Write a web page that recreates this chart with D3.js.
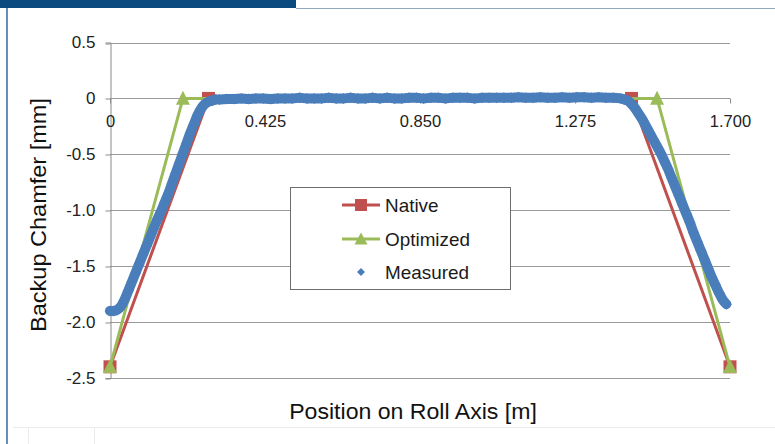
<!DOCTYPE html>
<html>
<head>
<meta charset="utf-8">
<script src="https://cdn.jsdelivr.net/npm/d3@7"></script>
<style>
  html, body { margin: 0; padding: 0; background: #fff; }
  svg { display: block; font-family: "Liberation Sans", Arial, Helvetica, sans-serif; }
</style>
</head>
<body>
<svg id="chart" width="775" height="444"></svg>
<script>
// Axis ticks
const xTicks = [0, 0.425, 0.85, 1.275, 1.7];
const xTickLabels = ["0", "0.425", "0.850", "1.275", "1.700"];
const yTicks = [0.5, 0, -0.5, -1.0, -1.5, -2.0, -2.5];
const yTickLabels = ["0.5", "0", "-0.5", "-1.0", "-1.5", "-2.0", "-2.5"];

// Chamfer profiles (position [m], chamfer [mm])
const nativeX = [0, 0.27, 1.43, 1.7];
const nativeY = [-2.4, 0, 0, -2.4];
const optimizedX = [0, 0.2, 1.5, 1.7];
const optimizedY = [-2.4, 0, 0, -2.4];

// Measured chamfer along the roll
const measuredX = [
  0.000, 0.010, 0.020, 0.030, 0.040, 0.050, 0.060, 0.070, 0.080, 0.090,
  0.100, 0.110, 0.120, 0.130, 0.140, 0.150, 0.160, 0.170, 0.180, 0.190,
  0.200, 0.210, 0.220, 0.230, 0.240, 0.250, 0.260, 0.270, 0.280, 0.290,
  0.300, 0.320, 0.340, 0.360, 0.380, 0.400, 0.420, 0.440, 0.460, 0.480,
  0.500, 0.520, 0.540, 0.560, 0.580, 0.600, 0.620, 0.640, 0.660, 0.680,
  0.700, 0.720, 0.740, 0.760, 0.780, 0.800, 0.820, 0.840, 0.860, 0.880,
  0.900, 0.920, 0.940, 0.960, 0.980, 1.000, 1.020, 1.040, 1.060, 1.080,
  1.100, 1.120, 1.140, 1.160, 1.180, 1.200, 1.220, 1.240, 1.260, 1.280,
  1.300, 1.320, 1.340, 1.360, 1.380, 1.400, 1.410, 1.420, 1.430, 1.440,
  1.450, 1.460, 1.470, 1.480, 1.490, 1.500, 1.510, 1.520, 1.530, 1.540,
  1.550, 1.560, 1.570, 1.580, 1.590, 1.600, 1.610, 1.620, 1.630, 1.640,
  1.650, 1.660, 1.670, 1.680, 1.690
];
const measuredY = [
  -1.90, -1.90, -1.89, -1.86, -1.80, -1.72, -1.64, -1.56, -1.48, -1.40,
  -1.32, -1.24, -1.16, -1.08, -1.01, -0.93, -0.85, -0.76, -0.67, -0.58,
  -0.49, -0.40, -0.31, -0.23, -0.15, -0.09, -0.05, -0.03, -0.02, -0.01,
  -0.010, -0.005, -0.005, 0.000, -0.005, 0.000, 0.000, -0.005, 0.000, 0.000,
  0.000, 0.005, 0.000, 0.000, 0.000, 0.005, 0.000, 0.000, 0.005, 0.000,
  0.000, 0.005, 0.000, 0.005, 0.000, 0.000, 0.005, 0.005, 0.000, 0.005,
  0.005, 0.000, 0.005, 0.005, 0.005, 0.000, 0.005, 0.005, 0.005, 0.005,
  0.005, 0.010, 0.005, 0.005, 0.010, 0.005, 0.005, 0.010, 0.005, 0.010,
  0.010, 0.005, 0.010, 0.005, 0.005, 0.000, -0.01, -0.02, -0.05, -0.09,
  -0.14, -0.19, -0.25, -0.31, -0.37, -0.43, -0.49, -0.56, -0.63, -0.71,
  -0.79, -0.87, -0.95, -1.03, -1.11, -1.20, -1.28, -1.36, -1.44, -1.52,
  -1.60, -1.67, -1.74, -1.80, -1.84
];

const seriesNames = ["Native", "Optimized", "Measured"];
const colors = { native: "#C0504D", optimized: "#9BBB59", measured: "#4A7EBB" };

const svg = d3.select("#chart");

// Page frame
svg.append("rect").attr("x", 0).attr("y", 0).attr("width", 296).attr("height", 8).attr("fill", "#0B4A7E");
svg.append("line").attr("x1", 296).attr("x2", 775).attr("y1", 8.5).attr("y2", 8.5)
  .attr("stroke", "#8FA9C2").attr("stroke-width", 1);
svg.append("line").attr("x1", 7).attr("x2", 7).attr("y1", 8).attr("y2", 444)
  .attr("stroke", "#2F6AA6").attr("stroke-width", 1.5);
svg.append("line").attr("x1", 13).attr("x2", 775).attr("y1", 427.5).attr("y2", 427.5)
  .attr("stroke", "#ECECEC").attr("stroke-width", 1);
svg.append("line").attr("x1", 28.5).attr("x2", 28.5).attr("y1", 427).attr("y2", 444)
  .attr("stroke", "#ECECEC").attr("stroke-width", 1);
svg.append("line").attr("x1", 94.5).attr("x2", 94.5).attr("y1", 427).attr("y2", 444)
  .attr("stroke", "#ECECEC").attr("stroke-width", 1);

// Scales
const x = d3.scaleLinear().domain([0, 1.7]).range([110, 730]);
const y = d3.scaleLinear().domain([-2.5, 0.5]).range([378, 42.5]);

// Horizontal gridlines
svg.append("g").selectAll("line").data(yTicks).join("line")
  .attr("x1", x(0)).attr("x2", x(1.7))
  .attr("y1", d => Math.round(y(d)) + 0.5).attr("y2", d => Math.round(y(d)) + 0.5)
  .attr("stroke", "#9A9A9A").attr("stroke-width", 1);

// Y axis
const yAxis = d3.axisLeft(y).tickValues(yTicks)
  .tickFormat((d, i) => yTickLabels[i]).tickSize(5).tickPadding(10);
const gy = svg.append("g").attr("transform", `translate(${x(0) + 0.5},0)`).call(yAxis);
gy.select(".domain").attr("stroke", "#8A8A8A");
gy.selectAll(".tick line").attr("stroke", "#8A8A8A")
  .attr("transform", d => `translate(0,${Math.round(y(d)) + 0.5 - y(d)})`);
gy.selectAll(".tick text")
  .attr("font-size", 17).attr("fill", "#222")
  .attr("font-family", "Liberation Sans, Arial, sans-serif");

// X axis at zero
const xAxis = d3.axisBottom(x).tickValues(xTicks)
  .tickFormat((d, i) => xTickLabels[i]).tickSize(5).tickPadding(12);
const gx = svg.append("g").attr("transform", `translate(0,${Math.round(y(0)) + 0.5})`).call(xAxis);
gx.select(".domain").remove();
gx.selectAll(".tick line").attr("stroke", "#8A8A8A");
gx.selectAll(".tick text")
  .attr("font-size", 16.5).attr("fill", "#222")
  .attr("font-family", "Liberation Sans, Arial, sans-serif");

// Marker shapes
const squarePath = s => `M${-s/2},${-s/2}H${s/2}V${s/2}H${-s/2}Z`;
const trianglePath = (w, h) => `M0,${-h*0.55}L${w/2},${h*0.45}L${-w/2},${h*0.45}Z`;
const diamondPath = r => `M0,${-r}L${r},0L0,${r}L${-r},0Z`;

const lineGen = d3.line().x(d => x(d[0])).y(d => y(d[1]));

// Native profile
const nativePts = d3.zip(nativeX, nativeY);
svg.append("path").datum(nativePts).attr("d", lineGen)
  .attr("fill", "none").attr("stroke", colors.native).attr("stroke-width", 3);
svg.append("g").selectAll("path").data(nativePts).join("path")
  .attr("d", squarePath(13)).attr("fill", colors.native)
  .attr("transform", d => `translate(${x(d[0])},${y(d[1])})`);

// Optimized profile
const optPts = d3.zip(optimizedX, optimizedY);
svg.append("path").datum(optPts).attr("d", lineGen)
  .attr("fill", "none").attr("stroke", colors.optimized).attr("stroke-width", 3);
svg.append("g").selectAll("path").data(optPts).join("path")
  .attr("d", trianglePath(14, 14)).attr("fill", colors.optimized)
  .attr("transform", d => `translate(${x(d[0])},${y(d[1])})`);

// Measured points (dense scan drawn as a band of diamonds)
const measPts = d3.zip(measuredX, measuredY);
svg.append("path").datum(measPts).attr("d", lineGen.curve(d3.curveMonotoneX))
  .attr("fill", "none").attr("stroke", colors.measured).attr("stroke-width", 10)
  .attr("stroke-linejoin", "round").attr("stroke-linecap", "round");
svg.append("g").selectAll("path").data(measPts).join("path")
  .attr("d", diamondPath(5.5)).attr("fill", colors.measured)
  .attr("transform", d => `translate(${x(d[0])},${y(d[1])})`);

// Legend
const legend = svg.append("g");
legend.append("rect").attr("x", 290.5).attr("y", 187.5).attr("width", 220).attr("height", 102)
  .attr("fill", "#fff").attr("stroke", "#6E6E6E").attr("stroke-width", 1);
const legendRows = [205, 239, 272];
const lx1 = 342, lx2 = 380, lmid = 361;
// Native
legend.append("line").attr("x1", lx1).attr("x2", lx2).attr("y1", legendRows[0]).attr("y2", legendRows[0])
  .attr("stroke", colors.native).attr("stroke-width", 3);
legend.append("path").attr("d", squarePath(12)).attr("fill", colors.native)
  .attr("transform", `translate(${lmid},${legendRows[0]})`);
// Optimized
legend.append("line").attr("x1", lx1).attr("x2", lx2).attr("y1", legendRows[1]).attr("y2", legendRows[1])
  .attr("stroke", colors.optimized).attr("stroke-width", 3);
legend.append("path").attr("d", trianglePath(13, 12)).attr("fill", colors.optimized)
  .attr("transform", `translate(${lmid},${legendRows[1]})`);
// Measured
legend.append("path").attr("d", diamondPath(4)).attr("fill", colors.measured)
  .attr("transform", `translate(${lmid},${legendRows[2]})`);
legend.selectAll("text.lg").data(seriesNames).join("text").attr("class", "lg")
  .attr("transform", (d, i) => `translate(385,${legendRows[i] + 6.5}) scale(1.05,1)`)
  .attr("font-size", 18).attr("fill", "#1a1a1a").text(d => d);

// Axis titles
svg.append("text")
  .attr("transform", "translate(413,419) scale(1.05,1)")
  .attr("text-anchor", "middle").attr("font-size", 22).attr("fill", "#111")
  .text("Position on Roll Axis [m]");
svg.append("text")
  .attr("transform", "translate(46,215) rotate(-90) scale(1.07,1)")
  .attr("text-anchor", "middle").attr("font-size", 22).attr("fill", "#111")
  .text("Backup Chamfer [mm]");
</script>
</body>
</html>
